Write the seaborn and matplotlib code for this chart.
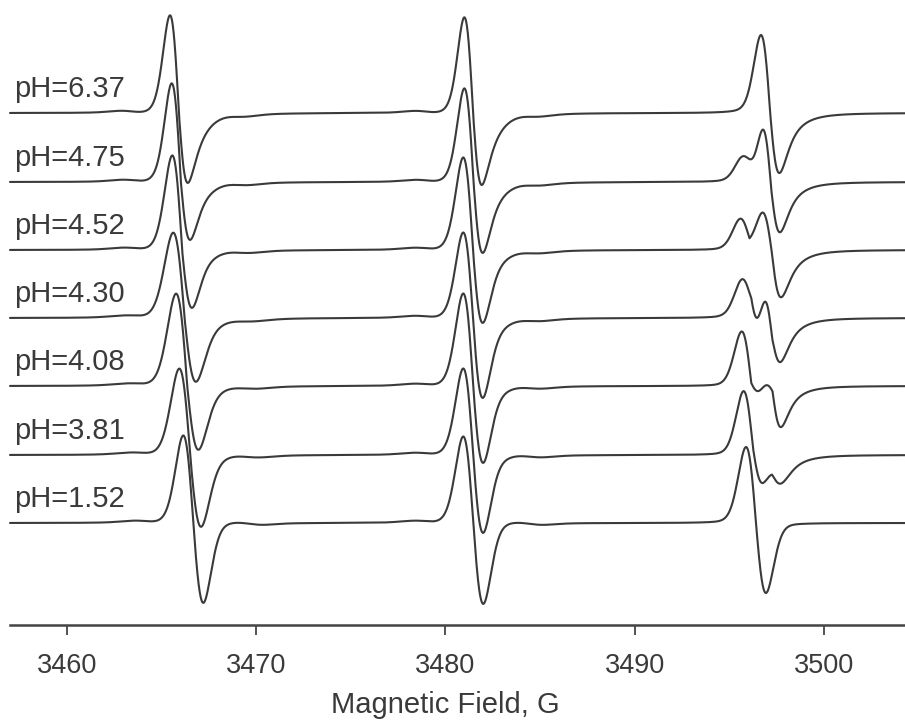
import numpy as np
import pandas as pd
import matplotlib
matplotlib.use("Agg")
import matplotlib.pyplot as plt
import seaborn as sns

# ---------------- data ----------------
ph_labels = ["pH=6.37", "pH=4.75", "pH=4.52", "pH=4.30", "pH=4.08", "pH=3.81", "pH=1.52"]

# low-field line (G): derivative peak / trough positions and heights (a.u.)
l1_peak = [3465.46, 3465.55, 3465.58, 3465.63, 3465.78, 3465.95, 3466.16]
l1_trough = [3466.40, 3466.52, 3466.62, 3466.83, 3466.96, 3467.10, 3467.22]
l1_up = [98, 99, 95, 86, 93, 87, 88]
l1_down = [70, 58, 58, 64, 64, 72, 80]

# central line
l2_peak = [3481.01, 3481.01, 3480.95, 3480.95, 3480.95, 3480.95, 3480.95]
l2_trough = [3481.93, 3481.98, 3481.98, 3481.98, 3482.00, 3482.00, 3482.01]
l2_up = [96, 94, 93, 86, 93, 87, 87]
l2_down = [72, 71, 73, 80, 77, 78, 81]

# right-side tail character (0 = gaussian, 1 = lorentzian)
tail_eta = [0.95, 0.8, 0.6, 0.5, 0.35, 0.25, 0.1]

# high-field line: unprotonated (A) and protonated (B) components
l3a_peak = [3496.68, 3496.75, 3496.75, 3496.79, 3496.84, 3496.73, 3496.73]
l3a_trough = [3497.65, 3497.69, 3497.74, 3497.74, 3497.74, 3497.79, 3497.79]
l3a_up = [78, 72, 42, 67, 14, 15, 0]
l3a_down = [60, 49, 47, 40, 40, 25, 0]
l3b_peak = [3495.66, 3495.66, 3495.57, 3495.66, 3495.66, 3495.75, 3495.89]
l3b_trough = [3496.63, 3496.63, 3496.58, 3496.67, 3496.67, 3496.75, 3496.94]
l3b_up = [0, 21, 29, 35, 54, 62, 76]
l3b_down = [0, 21, 5, 56, 16, 43, 70]

# weak satellite lines (offset from each main line, G) and their height
sat_offset = [-2.7, 2.6]
sat_height = 1.5

xticks = [3460, 3470, 3480, 3490, 3500]
xlabel = "Magnetic Field, G"

# ---------------- layout ----------------
W, H = 905, 724
x_left, px_per_g = 3456.48, 18.93
axis_px = 625
baselines_px = [113, 182, 250, 318, 386, 455, 523]
line_color = "#3a3a3a"
text_color = "#3a3a3a"


def deriv_line(x, pk, tr, up, down, eta_l, eta_r):
    w = 0.5 * (tr - pk)
    c = pk + w
    u = (x - c) / w

    def shape(eta):
        g = -u * np.exp(0.5 - u ** 2 / 2)
        v = u / np.sqrt(3)
        lo = -(16 * np.sqrt(3) / 9) * v / (1 + v ** 2) ** 2
        return (1 - eta) * g + eta * lo

    return np.where(x < c, up * shape(eta_l), down * shape(eta_r))


x = np.linspace(x_left + 10 / px_per_g, x_left + W / px_per_g, 3000)
rows = []
for i, lab in enumerate(ph_labels):
    eta = tail_eta[i]
    y = deriv_line(x, l1_peak[i], l1_trough[i], l1_up[i], l1_down[i], 0.15, eta)
    y += deriv_line(x, l2_peak[i], l2_trough[i], l2_up[i], l2_down[i], 0.15, eta)
    y += deriv_line(x, l3a_peak[i], l3a_trough[i], l3a_up[i], l3a_down[i], 0.15, 0.9)
    y += deriv_line(x, l3b_peak[i], l3b_trough[i], l3b_up[i], l3b_down[i], 0.1, 0.1)
    for pk, tr in [(l1_peak[i], l1_trough[i]), (l2_peak[i], l2_trough[i])]:
        for off in sat_offset:
            y += deriv_line(x, pk + off, tr + off + 0.6, sat_height, sat_height, 0.3, 0.3)
    rows.append(pd.DataFrame({"field": x, "signal": y - baselines_px[i], "trace": lab}))
df = pd.concat(rows, ignore_index=True)

sns.set_theme(style="white")
plt.rcParams["font.family"] = ["Liberation Sans", "DejaVu Sans"]

fig = plt.figure(figsize=(W / 100, H / 100), dpi=100)
ax = fig.add_axes([0, 1 - axis_px / H, 1, axis_px / H])
sns.lineplot(data=df, x="field", y="signal", units="trace", estimator=None,
             color=line_color, linewidth=1.5, ax=ax, legend=False, sort=False)

ax.set_xlim(x_left, x_left + W / px_per_g)
ax.set_ylim(-axis_px, 0)
for s in ["top", "left", "right"]:
    ax.spines[s].set_visible(False)
ax.spines["bottom"].set_color("#444444")
ax.spines["bottom"].set_linewidth(1.8)
ax.spines["bottom"].set_bounds(x_left + 10 / px_per_g, x_left + W / px_per_g)
ax.set_yticks([])
ax.set_xticks(xticks)
ax.set_xticklabels([str(t) for t in xticks], fontsize=19.5, color=text_color)
ax.tick_params(axis="x", direction="out", length=7, width=1.3, color="#444444",
               pad=13, bottom=True)
ax.set_xlabel(xlabel, fontsize=21, color=text_color)
ax.xaxis.set_label_coords(445 / W, -0.105)
ax.set_ylabel("")

for i, lab in enumerate(ph_labels):
    ax.text(x_left + 14 / px_per_g, -baselines_px[i] + 16, lab, fontsize=21,
            color=text_color, ha="left", va="baseline")

fig.savefig("out.png", dpi=100)
